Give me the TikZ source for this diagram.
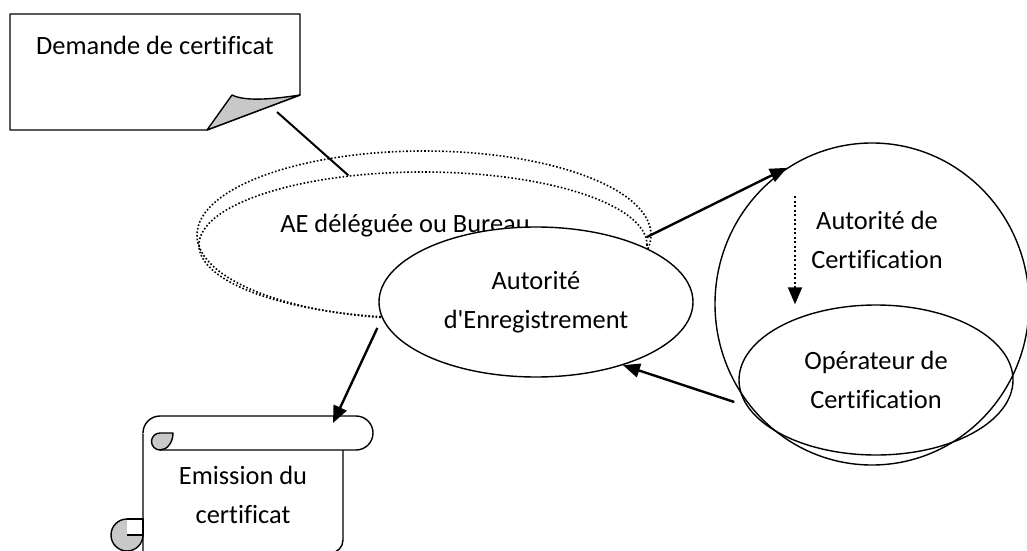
\documentclass[tikz,border=0pt]{standalone}
\usepackage{fontspec}
\setmainfont{Carlito}[Ligatures={TeX,NoCommon}]
\usetikzlibrary{shapes.geometric,arrows.meta,calc}
\definecolor{CurlGrey}{HTML}{C8C8C8}

\begin{document}
\begin{tikzpicture}[x=1pt, y=1pt,
  txt/.style={font=\fontsize{26.4}{39}\selectfont, align=center, text=black},
  solidell/.style={ellipse, draw, line width=1.4pt, inner sep=0pt},
  dotell/.style={ellipse, draw, line width=1.6pt, dash pattern=on 1.6pt off 2pt, inner sep=0pt},
  outline/.style={draw, line width=1.4pt, line join=round},
  flow/.style={line width=2.4pt, -{Triangle[length=17pt,width=14pt]}},
]
  \useasboundingbox (0,0) rectangle (1027,550);

  % demande de certificat (page with folded corner)
  \draw[outline, fill=white] (10,536) -- (300,536) -- (300,455) -- (207,420) -- (10,420) -- cycle;
  \filldraw[outline, fill=CurlGrey] (207,420) -- (232,455) .. controls (244,449) and (268,450) .. (300,455) -- cycle;
  \node[txt] (demande) at (155,505) {Demande de certificat};

  % AE deleguee
  \node[dotell, minimum width=454pt, minimum height=168pt] (ae) at (424,315) {};
  \node[dotell, minimum width=448pt, minimum height=146pt] (aeinner) at (423,305) {};
  \node[txt] (aetext) at (405,324) {AE déléguée ou Bureau};
  \node[solidell, txt, fill=white, minimum width=314pt, minimum height=150pt] (aereg) at (536,248)
    {Autorité\\d\textquotesingle Enregistrement};

  % certification
  \node[solidell, minimum width=314pt, minimum height=322pt] (ac) at (872,246) {};
  \node[txt] (actext) at (877,310) {Autorité de\\Certification};
  \node[solidell, txt, minimum width=274pt, minimum height=150pt] (oc) at (876,170)
    {Opérateur de\\Certification};

  % emission du certificat (scroll)
  \draw[outline, fill=white] (343,100) -- (343,10) arc[start angle=0, end angle=-90, radius=13]
    -- (143,-3) -- (143,117);
  \draw[outline, fill=white] (160,100) -- (356,100) arc[start angle=-90, end angle=90, radius=17]
    -- (160,134) arc[start angle=90, end angle=180, radius=17];
  \filldraw[outline, fill=CurlGrey] (160,117) -- (173,117)
    arc[start angle=0, end angle=-90, x radius=13, y radius=17]
    arc[start angle=-90, end angle=-270, radius=8.5] -- cycle;
  \filldraw[outline, fill=CurlGrey] (127,15) circle[radius=16];
  \filldraw[outline, fill=white] (127,31) -- (143,31) -- (143,15) -- (127,15);
  \node[txt] (emission) at (243,55) {Emission du\\certificat};

  % connectors
  \coordinate (foldend) at (277,438);
  \coordinate (scrolltop) at (333,127);
  \draw[line width=2pt] (foldend) -- (aeinner.137);
  \draw[flow] (aeinner.2) -- (ac.122);
  \draw[flow] ($(oc.west)+(-4,-22)$) -- (aereg.-36);
  \draw[flow] ($(aereg.west)+(-1,-26)$) -- (scrolltop);
  \draw[flow, line width=2pt, dash pattern=on 2pt off 2.5pt]
    ($(oc.north)+(-81,108)$) -- ($(oc.north)+(-81,0)$);
\end{tikzpicture}
\end{document}
